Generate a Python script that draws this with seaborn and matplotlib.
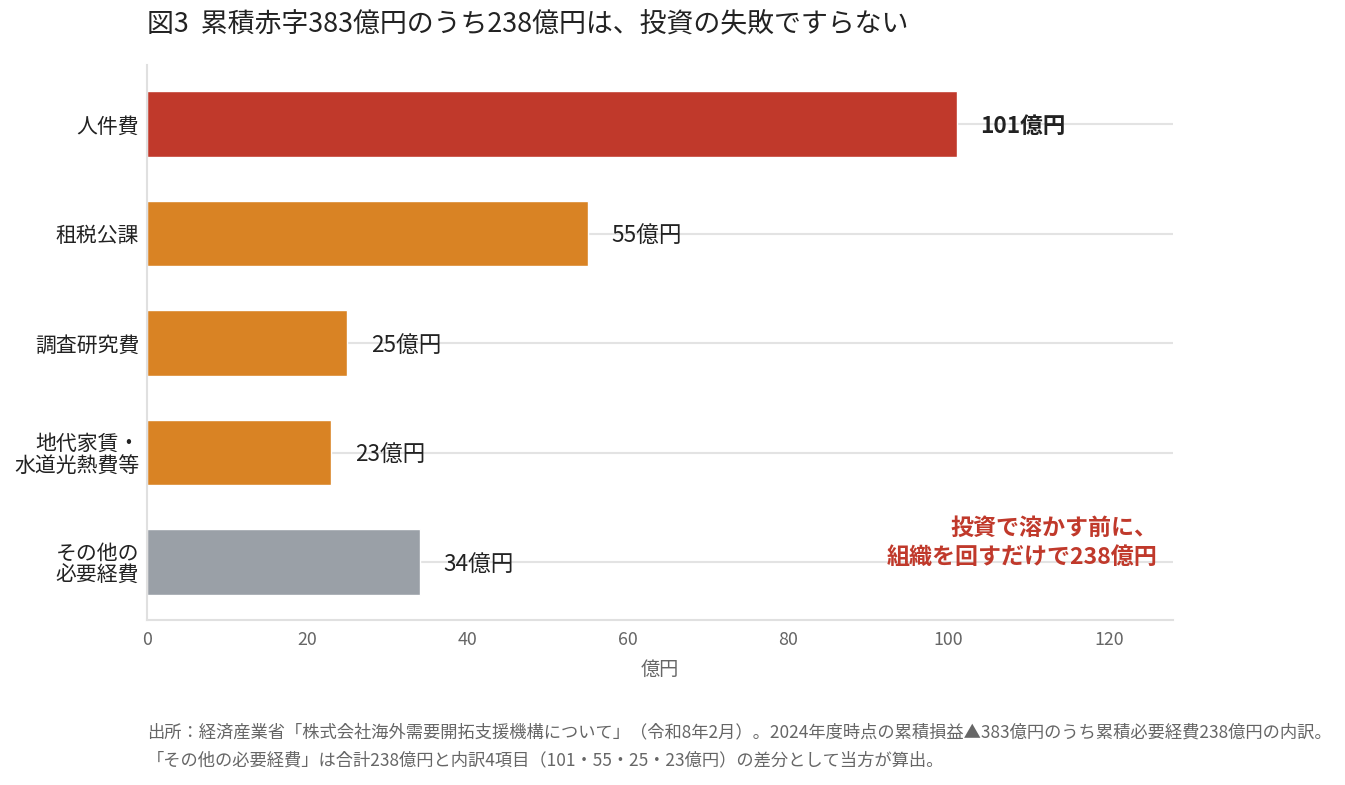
import matplotlib
matplotlib.use("Agg")
import matplotlib.pyplot as plt
import seaborn as sns
import pandas as pd

categories = ["人件費", "租税公課", "調査研究費", "地代家賃・\n水道光熱費等", "その他の\n必要経費"]
values = [101, 55, 25, 23, 34]
bar_colors = ["#C0392B", "#D98324", "#D98324", "#D98324", "#9AA0A7"]
value_labels = ["101億円", "55億円", "25億円", "23億円", "34億円"]
label_bold = [True, False, False, False, False]
x_ticks = [0, 20, 40, 60, 80, 100, 120]

title = "図3  累積赤字383億円のうち238億円は、投資の失敗ですらない"
x_label = "億円"
note_text = "投資で溶かす前に、\n組織を回すだけで238億円"
source_lines = "出所：経済産業省「株式会社海外需要開拓支援機構について」（令和8年2月）。2024年度時点の累積損益▲383億円のうち累積必要経費238億円の内訳。\n「その他の必要経費」は合計238億円と内訳4項目（101・55・25・23億円）の差分として当方が算出。"

sns.set_theme(style="white")
plt.rcParams["font.family"] = ["Noto Sans CJK JP", "DejaVu Sans"]

df = pd.DataFrame({"cat": categories, "val": values})

fig = plt.figure(figsize=(13.45, 7.85), dpi=100)
ax = fig.add_axes([0.1093, 0.2102, 0.7628, 0.7070])

sns.barplot(data=df, x="val", y="cat", hue="cat", palette=bar_colors,
            orient="h", width=0.6, legend=False, ax=ax, saturation=1, zorder=2)

ax.set_xlim(0, 128)
ax.set_ylim(4.53, -0.54)
ax.set_xticks(x_ticks)
ax.set_xticklabels([str(t) for t in x_ticks], color="#666666", fontsize=12.8)
ax.tick_params(axis="y", labelsize=15, labelcolor="#222222", length=0, pad=5.5)
ax.tick_params(axis="x", length=0, pad=8)
for lbl in ax.get_yticklabels():
    lbl.set_multialignment("right")
    lbl.set_linespacing(1.05)
ax.set_ylabel("")
ax.set_xlabel(x_label, color="#666666", fontsize=13.8, labelpad=7)

ax.yaxis.grid(True, color="#E3E3E3", linewidth=1.5, zorder=0)
ax.xaxis.grid(False)
ax.set_axisbelow(True)
for s in ["top", "right"]:
    ax.spines[s].set_visible(False)
for s in ["left", "bottom"]:
    ax.spines[s].set_color("#E0E0E0")
    ax.spines[s].set_linewidth(1.5)

for i, (v, lab, b) in enumerate(zip(values, value_labels, label_bold)):
    ax.annotate(lab, xy=(v, i), xytext=(24, -2), textcoords="offset pixels",
                ha="left", va="center", fontsize=16.3, color="#222222",
                fontweight="bold" if b else "normal", zorder=3)

ax.text(0.9844, 0.139, note_text, transform=ax.transAxes, ha="right", va="center",
        multialignment="right", fontsize=16.6, fontweight="bold", color="#C0392B",
        linespacing=1.35, zorder=4)

fig.text(147 / 1345, 1 - 25 / 785, title, ha="left", va="center", fontsize=19.4, color="#222222")
fig.text(147 / 1345, 1 - 746 / 785, source_lines, ha="left", va="center", fontsize=12.45,
         color="#666666", linespacing=1.7)

fig.savefig("out.png", dpi=100)
